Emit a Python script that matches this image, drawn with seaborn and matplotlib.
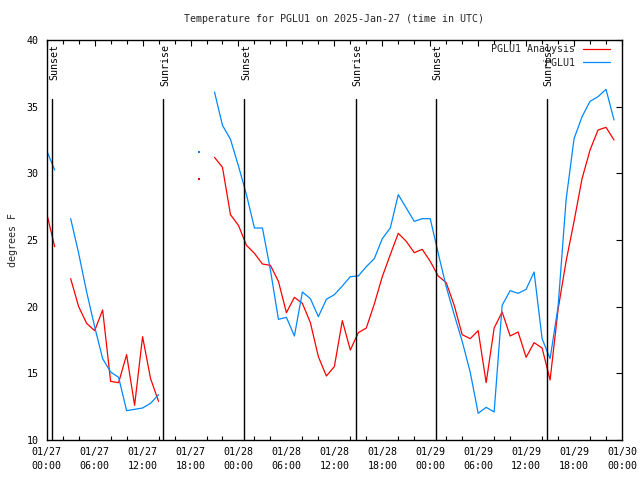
import numpy as np
import pandas as pd
import matplotlib
matplotlib.use("Agg")
import matplotlib.pyplot as plt
import seaborn as sns

# ---------------- data (hours since 2025-01-27 00:00 UTC) ----------------
nan = np.nan
hours = list(range(72))
station = [31.7, 30.25, nan, 26.6, 24.0, 21.1, 18.5, 16.1, 15.1, 14.7, 12.2, 12.3,
           12.4, 12.75, 13.4, nan, nan, nan, nan, 31.6, nan, 36.1, 33.6, 32.55,
           30.55, 28.4, 25.9, 25.9, 22.75, 19.05, 19.2, 17.8, 21.1, 20.6, 19.25, 20.55,
           20.9, 21.55, 22.25, 22.3, 23.0, 23.6, 25.1, 25.9, 28.4, 27.4, 26.4, 26.6,
           26.6, 24.0, 21.5, 19.4, 17.4, 15.1, 12.0, 12.45, 12.1, 20.1, 21.2, 21.0,
           21.3, 22.6, 17.6, 16.1, 20.0, 28.0, 32.6, 34.25, 35.4, 35.75, 36.3, 34.0]
analysis = [27.0, 24.5, nan, 22.1, 20.0, 18.75, 18.2, 19.75, 14.4, 14.3, 16.4, 12.6,
            17.75, 14.6, 12.9, nan, nan, nan, nan, 29.6, nan, 31.2, 30.45, 26.9,
            26.1, 24.6, 24.0, 23.2, 23.1, 21.9, 19.55, 20.7, 20.25, 18.8, 16.25, 14.8,
            15.5, 18.95, 16.75, 18.05, 18.4, 20.2, 22.25, 23.9, 25.5, 24.9, 24.05, 24.3,
            23.4, 22.3, 21.8, 20.1, 17.9, 17.6, 18.2, 14.3, 18.4, 19.6, 17.8, 18.1,
            16.2, 17.3, 16.9, 14.5, 19.8, 23.4, 26.4, 29.6, 31.75, 33.25, 33.45, 32.5]

sun_times = [0.7, 14.6, 24.75, 38.67, 48.7, 62.6]
sun_labels = ["Sunset", "Sunrise", "Sunset", "Sunrise", "Sunset", "Sunrise"]

tick_hours = list(range(0, 73, 6))
tick_labels = ["01/27\n00:00", "01/27\n06:00", "01/27\n12:00", "01/27\n18:00",
               "01/28\n00:00", "01/28\n06:00", "01/28\n12:00", "01/28\n18:00",
               "01/29\n00:00", "01/29\n06:00", "01/29\n12:00", "01/29\n18:00",
               "01/30\n00:00"]

title = "Temperature for PGLU1 on 2025-Jan-27 (time in UTC)"
series = [("PGLU1 Analysis", analysis, "#ff0000"), ("PGLU1", station, "#0088ff")]

# ---------------- style ----------------
sns.set_theme(style="white")
plt.rcParams["font.family"] = ["DejaVu Sans Mono"]
FS = 7.2
plt.rcParams.update({
    "xtick.direction": "in", "ytick.direction": "in",
    "xtick.top": True, "ytick.right": True,
    "axes.edgecolor": "black", "axes.linewidth": 1.0,
    "xtick.color": "black", "ytick.color": "black",
})

fig = plt.figure(figsize=(6.4, 4.8), dpi=100)
ax = fig.add_axes([46.7 / 640, 1 - 440 / 480, (622 - 46.7) / 640, 400 / 480])

df = pd.DataFrame({"hour": hours, "PGLU1 Analysis": analysis, "PGLU1": station})

for name, vals, col in series:
    s = df[["hour", name]].copy()
    s["seg"] = s[name].isna().cumsum()
    s = s.dropna()
    first = True
    for seg_id, g in s.groupby("seg"):
        if len(g) > 1:
            sns.lineplot(data=g, x="hour", y=name, color=col, lw=0.9, ax=ax,
                         estimator=None, sort=True,
                         label=name if first else None, legend=False)
            first = False
        else:
            sns.scatterplot(data=g, x="hour", y=name, color=col, s=2.5,
                            marker="s", linewidth=0, ax=ax, legend=False)

# sun lines
for t, lab in zip(sun_times, sun_labels):
    ax.plot([t, t], [10, 35.6], color="black", lw=1.0)
    ax.text(t + 0.2, 39.7, lab, rotation=90, ha="center", va="top",
            fontsize=FS, color="black")

ax.set_xlim(0, 72)
ax.set_ylim(10, 40)
ax.set_xticks(tick_hours)
ax.set_xticklabels(tick_labels, fontsize=FS, linespacing=1.55)
ax.set_xticks(range(0, 73, 2), minor=True)
ax.set_yticks(range(10, 41, 5))
ax.set_yticklabels([str(v) for v in range(10, 41, 5)], fontsize=FS)
ax.tick_params(axis="x", which="major", length=4, width=0.8, pad=5)
ax.tick_params(axis="y", which="major", length=4, width=0.8, pad=6)
ax.tick_params(axis="x", which="minor", length=3, width=0.8, top=True, bottom=True)
ax.set_xlabel("")
ax.set_ylabel("degrees F", fontsize=FS, labelpad=6)
fig.text(334 / 640, 1 - 19 / 480, title, ha="center", va="center", fontsize=FS)

leg = ax.legend(loc="upper right", bbox_to_anchor=(610 / 640, 1 - 44 / 480),
                bbox_transform=fig.transFigure, frameon=False, markerfirst=False,
                fontsize=FS, handlelength=2.7, handletextpad=0.8, labelspacing=0.35,
                borderpad=0, borderaxespad=0)

fig.savefig("out.png", dpi=100)
